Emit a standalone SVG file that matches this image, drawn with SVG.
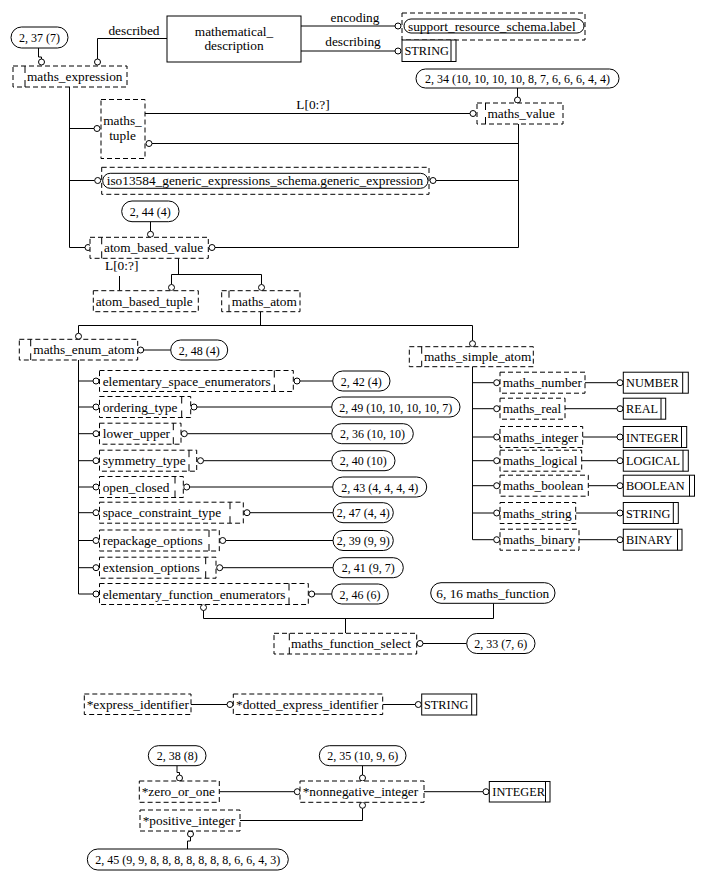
<svg xmlns="http://www.w3.org/2000/svg" width="705" height="880" viewBox="0 0 705 880">
<style>
.bx{fill:#fff;stroke:#000;stroke-width:1}
.dx{fill:#fff;stroke:#000;stroke-width:1;stroke-dasharray:5,3}
.dl{fill:none;stroke:#000;stroke-width:1;stroke-dasharray:7,7}
.sl{fill:none;stroke:#000;stroke-width:1}
.c{fill:#fff;stroke:#000;stroke-width:1}
text{font-family:"Liberation Serif","Times New Roman",serif;fill:#000}
.t{font-size:13.33px}
.n{font-size:12px;text-anchor:middle}
.u{font-size:12.3px}
.m{text-anchor:middle}
</style>
<rect width="705" height="880" fill="#fff"/>
<g id="connectors" fill="none" stroke="#000" stroke-width="1">
<path d="M38.5,48 V57 H41.5 V59"/><circle class="c" cx="41.5" cy="62" r="3"/>
<path d="M97.5,59 V38.5 H167"/><circle class="c" cx="97.5" cy="62" r="3"/>
<path d="M301,26 H395"/><circle class="c" cx="398" cy="26" r="3"/>
<path d="M301,51 H395"/><circle class="c" cx="398" cy="51" r="3"/>
<path d="M517.5,88 V97"/><circle class="c" cx="517.5" cy="100" r="3"/>
<path d="M69.5,87 V247.5 H85"/><circle class="c" cx="88" cy="247.5" r="3"/>
<path d="M69.5,128.5 H94"/><circle class="c" cx="97" cy="128.5" r="3"/>
<path d="M69.5,180.5 H94.7"/><circle class="c" cx="97.7" cy="180.5" r="3"/>
<path d="M145,113.5 H470"/><circle class="c" cx="473" cy="113.5" r="3"/>
<path d="M152,143.5 H518.5"/><circle class="c" cx="149" cy="143.5" r="3"/>
<path d="M518.5,124 V247.5 H215"/><circle class="c" cx="212" cy="247.5" r="3"/>
<path d="M436,180.5 H518.5"/><circle class="c" cx="433" cy="180.5" r="3"/>
<path d="M150.5,221.7 V231.3"/><circle class="c" cx="150.5" cy="234.3" r="3"/>
<path d="M119.5,276 V290.7"/>
<path d="M178.5,258.3 V274.5"/>
<path d="M171.5,284.5 V274.5 H261.5 V284.5"/><circle class="c" cx="171.5" cy="287.5" r="3"/><circle class="c" cx="261.5" cy="287.5" r="3"/>
<path d="M260.5,311.7 V325.5"/>
<path d="M78.5,333.3 V325.5 H472.5 V340.7"/><circle class="c" cx="78.5" cy="336.3" r="3"/><circle class="c" cx="472.5" cy="343.7" r="3"/>
<path d="M143.7,350 H170.7"/><circle class="c" cx="140.7" cy="350" r="3"/>
<path d="M78.5,360 V594"/>
<path d="M78.5,381 H93 M78.5,407 H93 M78.5,433.7 H93 M78.5,460.7 H93 M78.5,487 H93 M78.5,512.7 H93 M78.5,540.5 H93 M78.5,567.7 H93 M78.5,594 H93"/>
<circle class="c" cx="96" cy="381" r="3"/><circle class="c" cx="96" cy="407" r="3"/><circle class="c" cx="96" cy="433.7" r="3"/><circle class="c" cx="96" cy="460.7" r="3"/><circle class="c" cx="96" cy="487" r="3"/><circle class="c" cx="96" cy="512.7" r="3"/><circle class="c" cx="96" cy="540.5" r="3"/><circle class="c" cx="96" cy="567.7" r="3"/><circle class="c" cx="96" cy="594" r="3"/>
<path d="M300,381 H332.7 M197,407 H331.7 M187.3,433.7 H331.7 M203.5,460.7 H331.7 M189.7,487 H332.7 M250,512.7 H333 M225.7,540.5 H333 M222.7,567.7 H333 M314.7,594 H331.7"/>
<circle class="c" cx="297" cy="381" r="3"/><circle class="c" cx="194" cy="407" r="3"/><circle class="c" cx="184.3" cy="433.7" r="3"/><circle class="c" cx="200.5" cy="460.7" r="3"/><circle class="c" cx="186.7" cy="487" r="3"/><circle class="c" cx="247" cy="512.7" r="3"/><circle class="c" cx="222.7" cy="540.5" r="3"/><circle class="c" cx="219.7" cy="567.7" r="3"/><circle class="c" cx="311.7" cy="594" r="3"/>
<path d="M472.5,366.7 V539.7"/>
<path d="M472.5,382.7 H493.7 M472.5,408.7 H493.7 M472.5,437 H493.7 M472.5,460.7 H493.7 M472.5,485.7 H493.7 M472.5,513 H493.7 M472.5,539.7 H493.7"/>
<circle class="c" cx="496.7" cy="382.7" r="3"/><circle class="c" cx="496.7" cy="408.7" r="3"/><circle class="c" cx="496.7" cy="437" r="3"/><circle class="c" cx="496.7" cy="460.7" r="3"/><circle class="c" cx="496.7" cy="485.7" r="3"/><circle class="c" cx="496.7" cy="513" r="3"/><circle class="c" cx="496.7" cy="539.7" r="3"/>
<path d="M585,382.7 H617 M565,408.7 H617 M582.7,437 H617 M581.7,460.7 H617 M588.3,485.7 H617 M575.7,513 H617 M579,539.7 H617"/>
<circle class="c" cx="620" cy="382.7" r="3"/><circle class="c" cx="620" cy="408.7" r="3"/><circle class="c" cx="620" cy="437" r="3"/><circle class="c" cx="620" cy="460.7" r="3"/><circle class="c" cx="620" cy="485.7" r="3"/><circle class="c" cx="620" cy="513" r="3"/><circle class="c" cx="620" cy="539.7" r="3"/>
<path d="M203.5,610.5 V618.5 H493.5 V603.3"/><path d="M345.5,618.5 V633.3"/><circle class="c" cx="203.5" cy="607.5" r="3"/>
<path d="M423,643.5 H466.7"/><circle class="c" cx="420" cy="643.5" r="3"/>
<path d="M191,704.5 H227"/><circle class="c" cx="230" cy="704.5" r="3"/>
<path d="M382.7,704.5 H415.3"/><circle class="c" cx="418.3" cy="704.5" r="3"/>
<path d="M177,765.7 V772.5 H179.5 V775"/><circle class="c" cx="179.5" cy="778" r="3"/>
<path d="M219.3,791.7 H294.3"/><circle class="c" cx="297.3" cy="791.7" r="3"/>
<path d="M424,791.7 H483"/><circle class="c" cx="486" cy="791.7" r="3"/>
<path d="M362.5,765.7 V775"/><circle class="c" cx="362.5" cy="778" r="3"/>
<path d="M362.5,808.3 V820.5 H240"/><circle class="c" cx="362.5" cy="805.3" r="3"/>
<path d="M190.5,837 V841 H187.5 V849"/><circle class="c" cx="190.5" cy="834" r="3"/>
</g>
<g id="lbl-described"><text class="t m" x="134" y="35">described</text></g>
<g id="lbl-encoding"><text class="t m" x="355" y="22">encoding</text></g>
<g id="lbl-describing"><text class="t m" x="353" y="46">describing</text></g>
<g id="lbl-list1"><text class="t m" x="313" y="109">L[0:?]</text></g>
<g id="lbl-list2"><text class="t m" x="121.7" y="270">L[0:?]</text></g>

<g id="mathematical_description"><rect class="bx" x="167" y="16" width="134" height="46"/><text class="t m" x="234" y="35.5">mathematical_</text><text class="t m" x="234" y="50">description</text></g>
<g id="support_resource_schema_label"><rect class="dx" x="402" y="13" width="183" height="27"/><rect class="bx" x="404" y="19" width="180" height="14" rx="7"/><text class="t" x="408" y="30.5">support_resource_schema.label</text></g>
<g id="string_top"><rect class="bx" x="402" y="40" width="54" height="21.5"/><line class="sl" x1="451" y1="40" x2="451" y2="61.5"/><text class="u" x="404.5" y="55.3">STRING</text></g>
<g id="ref_2_37"><rect class="bx" x="11" y="27" width="57" height="21" rx="10.5"/><text class="n" x="39.5" y="42">2, 37 (7)</text></g>
<g id="maths_expression"><rect class="dx" x="13" y="66" width="114" height="21"/><line class="dl" x1="25" y1="66" x2="25" y2="87"/><text class="t" x="27" y="81">maths_expression</text></g>
<g id="maths_tuple"><rect class="dx" x="101" y="99.5" width="44" height="59"/><text class="t m" x="122.5" y="125">maths_</text><text class="t m" x="122.5" y="139.5">tuple</text></g>
<g id="ref_2_34"><rect class="bx" x="416" y="69" width="203" height="19" rx="9.5"/><text class="n" x="517.5" y="83">2, 34 (10, 10, 10, 10, 8, 7, 6, 6, 6, 4, 4)</text></g>
<g id="maths_value"><rect class="dx" x="477" y="103" width="86" height="21"/><line class="dl" x1="485.5" y1="103" x2="485.5" y2="124"/><text class="t" x="487.5" y="118">maths_value</text></g>
<g id="generic_expression"><rect class="dx" x="101.7" y="167.3" width="327.3" height="27"/><rect class="bx" x="102.7" y="173.3" width="325.3" height="15" rx="7.5"/><text class="t" x="106.7" y="185">iso13584_generic_expressions_schema.generic_expression</text></g>
<g id="ref_2_44"><rect class="bx" x="121.7" y="201" width="57.3" height="20.7" rx="10.3"/><text class="n" x="150.3" y="216">2, 44 (4)</text></g>
<g id="atom_based_value"><rect class="dx" x="90" y="237.3" width="118.3" height="21"/><line class="dl" x1="101.7" y1="237.3" x2="101.7" y2="258.3"/><text class="t" x="104" y="252">atom_based_value</text></g>
<g id="atom_based_tuple"><rect class="dx" x="93.3" y="290.7" width="105" height="21"/><text class="t" x="95.7" y="305.7">atom_based_tuple</text></g>
<g id="maths_atom"><rect class="dx" x="221.7" y="290.7" width="78.3" height="21"/><line class="dl" x1="229" y1="290.7" x2="229" y2="311.7"/><text class="t" x="231.7" y="305.7">maths_atom</text></g>
<g id="maths_enum_atom"><rect class="dx" x="19.3" y="339.3" width="118.4" height="20.7"/><line class="dl" x1="30.7" y1="339.3" x2="30.7" y2="360"/><text class="t" x="33.3" y="354">maths_enum_atom</text></g>
<g id="ref_2_48"><rect class="bx" x="170.7" y="340" width="57" height="20" rx="10"/><text class="n" x="199.2" y="354.5">2, 48 (4)</text></g>
<g id="maths_simple_atom"><rect class="dx" x="409.3" y="346.7" width="124" height="20"/><line class="dl" x1="421.7" y1="346.7" x2="421.7" y2="366.7"/><text class="t" x="424" y="361">maths_simple_atom</text></g>

<g id="elementary_space_enumerators"><rect class="dx" x="99.5" y="370.5" width="193.8" height="21"/><line class="dl" x1="274.3" y1="370.5" x2="274.3" y2="391.5"/><text class="t" x="102.7" y="385.5">elementary_space_enumerators</text></g>
<g id="ref_2_42"><rect class="bx" x="332.7" y="371" width="57.3" height="20" rx="10"/><text class="n" x="361.3" y="385.5">2, 42 (4)</text></g>
<g id="ordering_type"><rect class="dx" x="99.5" y="396.5" width="91.2" height="21"/><line class="dl" x1="181.7" y1="396.5" x2="181.7" y2="417.5"/><text class="t" x="102.7" y="411.5">ordering_type</text></g>
<g id="ref_2_49"><rect class="bx" x="331.7" y="397" width="128.3" height="20" rx="10"/><text class="n" x="395.8" y="411.5">2, 49 (10, 10, 10, 10, 7)</text></g>
<g id="lower_upper"><rect class="dx" x="99.5" y="423.2" width="81.5" height="21"/><line class="dl" x1="173.3" y1="423.2" x2="173.3" y2="444.2"/><text class="t" x="102.7" y="438.2">lower_upper</text></g>
<g id="ref_2_36"><rect class="bx" x="331.7" y="423.7" width="81.6" height="20" rx="10"/><text class="n" x="372.5" y="438.2">2, 36 (10, 10)</text></g>
<g id="symmetry_type"><rect class="dx" x="99.5" y="450.2" width="97.2" height="21"/><line class="dl" x1="189" y1="450.2" x2="189" y2="471.2"/><text class="t" x="102.7" y="465.2">symmetry_type</text></g>
<g id="ref_2_40"><rect class="bx" x="331.7" y="450.7" width="63.3" height="20" rx="10"/><text class="n" x="363.3" y="465.2">2, 40 (10)</text></g>
<g id="open_closed"><rect class="dx" x="99.5" y="476.5" width="83.8" height="21"/><line class="dl" x1="175" y1="476.5" x2="175" y2="497.5"/><text class="t" x="102.7" y="491.5">open_closed</text></g>
<g id="ref_2_43"><rect class="bx" x="332.7" y="477" width="94" height="20" rx="10"/><text class="n" x="379.7" y="491.5">2, 43 (4, 4, 4, 4)</text></g>
<g id="space_constraint_type"><rect class="dx" x="99.5" y="502.2" width="143.8" height="21"/><line class="dl" x1="230" y1="502.2" x2="230" y2="523.2"/><text class="t" x="102.7" y="517.2">space_constraint_type</text></g>
<g id="ref_2_47"><rect class="bx" x="333" y="502.7" width="60.3" height="20" rx="10"/><text class="n" x="363.2" y="517.2">2, 47 (4, 4)</text></g>
<g id="repackage_options"><rect class="dx" x="99.5" y="530" width="119.8" height="21"/><line class="dl" x1="209" y1="530" x2="209" y2="551"/><text class="t" x="102.7" y="545">repackage_options</text></g>
<g id="ref_2_39"><rect class="bx" x="333" y="530.5" width="60.3" height="20" rx="10"/><text class="n" x="363.2" y="545">2, 39 (9, 9)</text></g>
<g id="extension_options"><rect class="dx" x="99.5" y="557.2" width="116.5" height="21"/><line class="dl" x1="205.7" y1="557.2" x2="205.7" y2="578.2"/><text class="t" x="102.7" y="572.2">extension_options</text></g>
<g id="ref_2_41"><rect class="bx" x="333" y="557.7" width="70.3" height="20" rx="10"/><text class="n" x="368.2" y="572.2">2, 41 (9, 7)</text></g>
<g id="elementary_function_enumerators"><rect class="dx" x="99.5" y="583.5" width="208.8" height="21"/><line class="dl" x1="289" y1="583.5" x2="289" y2="604.5"/><text class="t" x="102.7" y="598.5">elementary_function_enumerators</text></g>
<g id="ref_2_46"><rect class="bx" x="331.7" y="584" width="56.6" height="20" rx="10"/><text class="n" x="360" y="598.5">2, 46 (6)</text></g>

<g id="maths_number"><rect class="dx" x="500" y="372.2" width="85" height="21"/><text class="t" x="502.7" y="387.2">maths_number</text></g>
<g id="number_type"><rect class="bx" x="623.3" y="372.2" width="65" height="21"/><line class="sl" x1="682.7" y1="372.2" x2="682.7" y2="393.2"/><text class="u" x="626" y="387.2">NUMBER</text></g>
<g id="maths_real"><rect class="dx" x="500" y="398.2" width="65" height="21"/><text class="t" x="502.7" y="413.2">maths_real</text></g>
<g id="real_type"><rect class="bx" x="623.3" y="398.2" width="42.4" height="21"/><line class="sl" x1="661" y1="398.2" x2="661" y2="419.2"/><text class="u" x="626" y="413.2">REAL</text></g>
<g id="maths_integer"><rect class="dx" x="500" y="426.5" width="82.7" height="21"/><text class="t" x="502.7" y="441.5">maths_integer</text></g>
<g id="integer_type"><rect class="bx" x="623.3" y="426.5" width="63.4" height="21"/><line class="sl" x1="681.5" y1="426.5" x2="681.5" y2="447.5"/><text class="u" x="626" y="441.5">INTEGER</text></g>
<g id="maths_logical"><rect class="dx" x="500" y="450.2" width="81.7" height="21"/><text class="t" x="502.7" y="465.2">maths_logical</text></g>
<g id="logical_type"><rect class="bx" x="623.3" y="450.2" width="65" height="21"/><line class="sl" x1="683" y1="450.2" x2="683" y2="471.2"/><text class="u" x="626" y="465.2">LOGICAL</text></g>
<g id="maths_boolean"><rect class="dx" x="500" y="475.2" width="88.3" height="21"/><text class="t" x="502.7" y="490.2">maths_boolean</text></g>
<g id="boolean_type"><rect class="bx" x="623.3" y="475.2" width="71.2" height="21"/><line class="sl" x1="689.5" y1="475.2" x2="689.5" y2="496.2"/><text class="u" x="626" y="490.2">BOOLEAN</text></g>
<g id="maths_string"><rect class="dx" x="500" y="502.5" width="75.7" height="21"/><text class="t" x="502.7" y="517.5">maths_string</text></g>
<g id="string_type"><rect class="bx" x="623.3" y="502.5" width="55" height="21"/><line class="sl" x1="673.3" y1="502.5" x2="673.3" y2="523.5"/><text class="u" x="626" y="517.5">STRING</text></g>
<g id="maths_binary"><rect class="dx" x="500" y="529.2" width="79" height="21"/><text class="t" x="502.7" y="544.2">maths_binary</text></g>
<g id="binary_type"><rect class="bx" x="623.3" y="529.2" width="58.7" height="21"/><line class="sl" x1="677.5" y1="529.2" x2="677.5" y2="550.2"/><text class="u" x="626" y="544.2">BINARY</text></g>

<g id="ref_6_16"><rect class="bx" x="430.7" y="582.7" width="124.3" height="20.6" rx="10.3"/><text class="t m" x="492.8" y="597.5">6, 16 maths_function</text></g>
<g id="maths_function_select"><rect class="dx" x="274" y="633.3" width="142.7" height="20.7"/><line class="dl" x1="289.3" y1="633.3" x2="289.3" y2="654"/><text class="t" x="291" y="648">maths_function_select</text></g>
<g id="ref_2_33"><rect class="bx" x="466.7" y="633.5" width="68.3" height="20" rx="10"/><text class="n" x="500.8" y="648">2, 33 (7, 6)</text></g>

<g id="express_identifier"><rect class="dx" x="84.3" y="694" width="106.7" height="20.5"/><text class="t" x="86.7" y="708.7">*express_identifier</text></g>
<g id="dotted_express_identifier"><rect class="dx" x="233.3" y="694" width="149.4" height="20.5"/><text class="t" x="236" y="708.7">*dotted_express_identifier</text></g>
<g id="string_bottom"><rect class="bx" x="421.7" y="694" width="55" height="21"/><line class="sl" x1="471.7" y1="694" x2="471.7" y2="715"/><text class="u" x="424" y="709">STRING</text></g>

<g id="ref_2_38"><rect class="bx" x="148.3" y="745.7" width="57.7" height="20" rx="10"/><text class="n" x="177.2" y="760.2">2, 38 (8)</text></g>
<g id="ref_2_35"><rect class="bx" x="319.3" y="745.7" width="86.7" height="20" rx="10"/><text class="n" x="362.7" y="760.2">2, 35 (10, 9, 6)</text></g>
<g id="zero_or_one"><rect class="dx" x="139.3" y="781" width="80" height="21.3"/><text class="t" x="141.7" y="796">*zero_or_one</text></g>
<g id="nonnegative_integer"><rect class="dx" x="300" y="781" width="124" height="21.3"/><text class="t" x="302.7" y="796">*nonnegative_integer</text></g>
<g id="integer_bottom"><rect class="bx" x="489.3" y="781.5" width="60.7" height="20.5"/><line class="sl" x1="545.5" y1="781.5" x2="545.5" y2="802"/><text class="u" x="492.3" y="796">INTEGER</text></g>
<g id="positive_integer"><rect class="dx" x="140" y="810" width="100" height="21"/><text class="t" x="142.7" y="825">*positive_integer</text></g>
<g id="ref_2_45"><rect class="bx" x="87.3" y="849" width="201" height="21" rx="10.5"/><text class="n" x="187.8" y="864">2, 45 (9, 9, 8, 8, 8, 8, 8, 8, 8, 6, 6, 4, 3)</text></g>
</svg>
